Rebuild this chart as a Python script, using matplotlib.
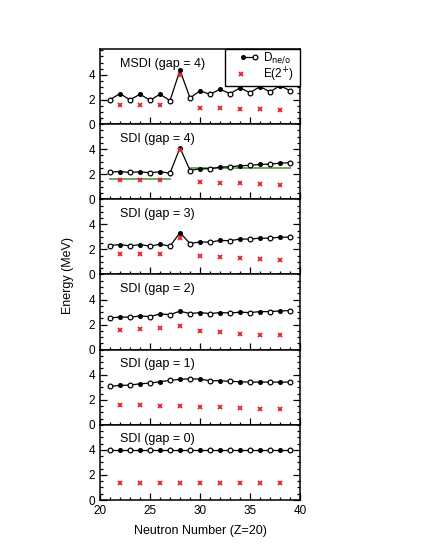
import matplotlib
matplotlib.use("Agg")
import matplotlib.pyplot as plt
from matplotlib.lines import Line2D
from matplotlib.legend_handler import HandlerBase
from matplotlib.ticker import MultipleLocator, FixedLocator

plt.rcParams['font.family'] = ['Liberation Sans', 'DejaVu Sans']

neutrons = list(range(21, 40))
even_n = list(range(22, 40, 2))

panel_titles = ["MSDI (gap = 4)", "SDI (gap = 4)", "SDI (gap = 3)",
                "SDI (gap = 2)", "SDI (gap = 1)", "SDI (gap = 0)"]

d_msdi4 = [1.99, 2.48, 1.97, 2.43, 1.94, 2.43, 1.91, 4.38, 2.13, 2.70,
           2.43, 2.83, 2.48, 2.94, 2.56, 3.05, 2.62, 3.13, 2.72]
d_sdi4 = [2.17, 2.22, 2.15, 2.20, 2.12, 2.20, 2.09, 4.12, 2.30, 2.44,
          2.44, 2.57, 2.60, 2.68, 2.71, 2.79, 2.81, 2.89, 2.92]
d_sdi3 = [2.31, 2.39, 2.28, 2.39, 2.26, 2.42, 2.26, 3.34, 2.47, 2.60,
          2.58, 2.72, 2.70, 2.83, 2.83, 2.90, 2.90, 2.98, 2.98]
d_sdi2 = [2.53, 2.61, 2.59, 2.69, 2.64, 2.85, 2.80, 3.07, 2.88, 2.96,
          2.88, 2.96, 2.93, 2.99, 2.96, 3.04, 3.04, 3.09, 3.12]
d_sdi1 = [3.07, 3.15, 3.17, 3.28, 3.33, 3.44, 3.55, 3.63, 3.68, 3.65,
          3.52, 3.52, 3.47, 3.44, 3.41, 3.41, 3.41, 3.41, 3.41]
d_sdi0 = [4.00] * 19

e2_msdi4 = [1.59, 1.59, 1.59, 3.97, 1.34, 1.32, 1.23, 1.23, 1.18]
e2_sdi4 = [1.56, 1.56, 1.56, 3.96, 1.37, 1.32, 1.27, 1.21, 1.16]
e2_sdi3 = [1.63, 1.63, 1.63, 2.90, 1.47, 1.36, 1.30, 1.24, 1.19]
e2_sdi2 = [1.60, 1.63, 1.71, 1.92, 1.52, 1.39, 1.28, 1.20, 1.15]
e2_sdi1 = [1.55, 1.55, 1.52, 1.52, 1.44, 1.39, 1.33, 1.28, 1.23]
e2_sdi0 = [1.36] * 9

d_series = [d_msdi4, d_sdi4, d_sdi3, d_sdi2, d_sdi1, d_sdi0]
e2_series = [e2_msdi4, e2_sdi4, e2_sdi3, e2_sdi2, e2_sdi1, e2_sdi0]

# green reference segments in the SDI (gap = 4) panel
green_x = [(21, 27), (29, 39)]
green_y = [1.64, 2.49]

legend_labels = ['D$_{\\rm ne/o}$   ', 'E(2$^{+}$)']

OPEN_MS = 3.4
FILL_MS = 2.6
X_MS = 3.5
X_MEW = 1.3
RED = '#e8202a'


class HandlerDotLine(HandlerBase):
    def create_artists(self, legend, orig_handle, xdescent, ydescent,
                       width, height, fontsize, trans):
        x0 = -xdescent + 0.55 * width
        x1 = -xdescent + 0.98 * width
        y = -ydescent + height / 2.0
        ln = Line2D([x0, x1], [y, y], color='black', lw=0.9)
        m1 = Line2D([x0], [y], ls='none', marker='o', ms=FILL_MS, color='black')
        m2 = Line2D([x1], [y], ls='none', marker='o', ms=OPEN_MS,
                    mfc='white', mec='black', mew=0.9)
        for a in (ln, m1, m2):
            a.set_transform(trans)
        return [ln, m1, m2]


fig, axes = plt.subplots(6, 1, sharex=True, figsize=(4.25, 5.5), dpi=100)
fig.subplots_adjust(left=100 / 425, right=300 / 425, bottom=1 - 500 / 550,
                    top=1 - 49 / 550, hspace=0)

for i, ax in enumerate(axes):
    d = d_series[i]
    e2 = e2_series[i]
    ax.plot(neutrons, d, color='black', lw=0.9, zorder=2)
    odd_x = [n for n in neutrons if n % 2 == 1]
    odd_y = [v for n, v in zip(neutrons, d) if n % 2 == 1]
    ev_x = [n for n in neutrons if n % 2 == 0]
    ev_y = [v for n, v in zip(neutrons, d) if n % 2 == 0]
    ax.plot(odd_x, odd_y, ls='none', marker='o', ms=OPEN_MS, mfc='white',
            mec='black', mew=0.9, zorder=3)
    ax.plot(ev_x, ev_y, ls='none', marker='o', ms=FILL_MS, color='black',
            zorder=3)
    if i == 1:
        for (xa, xb), gy in zip(green_x, green_y):
            ax.plot([xa, xb], [gy, gy], color='#6aa85a', lw=1.4, zorder=1)
    ax.plot(even_n, e2, ls='none', marker='x', ms=X_MS, mew=X_MEW,
            color=RED, zorder=4)

    ax.text(22.0, 4.85, panel_titles[i], fontsize=9, ha='left', va='center')

    ax.set_xlim(20, 40)
    ax.set_ylim(0, 6.1 if i == 0 else 6)
    ax.yaxis.set_major_locator(FixedLocator([0, 2, 4]))
    ax.yaxis.set_minor_locator(MultipleLocator(0.5))
    ax.xaxis.set_major_locator(MultipleLocator(5))
    ax.xaxis.set_minor_locator(MultipleLocator(1))
    ax.tick_params(which='both', direction='in', top=False, right=True,
                   labelsize=8.5, width=0.9)
    ax.tick_params(which='major', length=5)
    ax.tick_params(which='minor', length=2.5)
    for s in ax.spines.values():
        s.set_linewidth(1.1)

    if i == 0:
        h1 = Line2D([], [], color='black')
        h2 = Line2D([], [], ls='none', marker='x', ms=X_MS, mew=X_MEW,
                    color=RED)
        leg = ax.legend([h1, h2], legend_labels,
                        handler_map={h1: HandlerDotLine()},
                        loc='upper right', borderaxespad=0.0, fontsize=8.5,
                        fancybox=False, framealpha=1, edgecolor='black',
                        handlelength=2.4, handletextpad=0.6,
                        labelspacing=0.0, borderpad=0.15, handleheight=0.7)
        leg.get_frame().set_linewidth(1.0)

axes[-1].set_xlabel('Neutron Number (Z=20)', fontsize=9, labelpad=6)
fig.text(68 / 425, 0.5, 'Energy (MeV)', rotation=90, fontsize=9,
         ha='center', va='center')

fig.savefig('out.png', dpi=100)
